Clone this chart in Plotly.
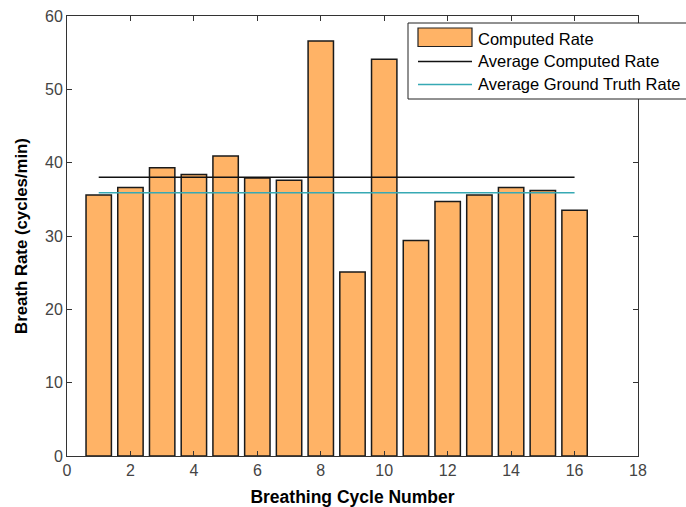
import plotly.graph_objects as go

# Breath rate per breathing cycle
cycles = list(range(1, 17))
computed_rate = [35.6, 36.6, 39.3, 38.4, 40.9, 37.9, 37.6, 56.6,
                 25.1, 54.1, 29.4, 34.7, 35.6, 36.6, 36.2, 33.5]
ground_truth_avg = 35.9
avg_span = [1, 16]

x_ticks = [0, 2, 4, 6, 8, 10, 12, 14, 16, 18]
y_ticks = [0, 10, 20, 30, 40, 50, 60]

legend_labels = ["Computed Rate", "Average Computed Rate", "Average Ground Truth Rate"]

BAR_FILL = "#FFB366"
TEAL = "#36a9b4"
FONT = "Liberation Sans, Arial, sans-serif"

computed_avg = sum(computed_rate) / len(computed_rate)

fig = go.Figure()
fig.add_trace(go.Bar(
    x=cycles, y=computed_rate, width=0.8,
    marker=dict(color=BAR_FILL, line=dict(color="#1a1a1a", width=1.5)),
    name=legend_labels[0],
))
fig.add_trace(go.Scatter(
    x=avg_span, y=[computed_avg, computed_avg], mode="lines",
    line=dict(color="#111111", width=1.5), name=legend_labels[1],
))
fig.add_trace(go.Scatter(
    x=avg_span, y=[ground_truth_avg, ground_truth_avg], mode="lines",
    line=dict(color=TEAL, width=1.5), name=legend_labels[2],
))

axis_common = dict(
    showgrid=False, zeroline=False, showline=True, linecolor="#333333",
    linewidth=1, mirror="ticks", ticks="inside", ticklen=5, automargin=False,
    tickcolor="#333333", tickfont=dict(family=FONT, size=16, color="#444444"),
)

fig.update_layout(
    width=686, height=507,
    margin=dict(l=67, r=48, t=16, b=51),
    paper_bgcolor="white", plot_bgcolor="white",
    showlegend=False, bargap=0.2,
    xaxis=dict(range=[0, 18], tickvals=x_ticks,
               title=dict(text="<b>Breathing Cycle Number</b>", standoff=17,
                          font=dict(family=FONT, size=17.5, color="black")),
               **axis_common),
    yaxis=dict(range=[0, 60], tickvals=y_ticks,
               title=dict(text="<b>Breath Rate (cycles/min)</b>", standoff=13,
                          font=dict(family=FONT, size=16.8, color="black")),
               **axis_common),
)

# Legend box drawn in paper coordinates (pixel helpers)
plot_l, plot_r, plot_t, plot_b = 67, 638, 16, 456


def px(x):
    return (x - plot_l) / (plot_r - plot_l)


def py(y):
    return (plot_b - y) / (plot_b - plot_t)


shapes = [
    dict(type="rect", xref="paper", yref="paper", layer="above",
         x0=px(408), x1=px(700), y0=py(99), y1=py(23),
         fillcolor="white", line=dict(color="#222222", width=1)),
    dict(type="rect", xref="paper", yref="paper", layer="above",
         x0=px(418), x1=px(472), y0=py(46.5), y1=py(28),
         fillcolor=BAR_FILL, line=dict(color="#222222", width=1.2)),
    dict(type="line", xref="paper", yref="paper", layer="above",
         x0=px(418), x1=px(472), y0=py(61.5), y1=py(61.5),
         line=dict(color="#111111", width=1.5)),
    dict(type="line", xref="paper", yref="paper", layer="above",
         x0=px(418), x1=px(472), y0=py(84.5), y1=py(84.5),
         line=dict(color=TEAL, width=1.5)),
]
annotations = []
for label, yc in zip(legend_labels, [38.5, 61.5, 84.5]):
    annotations.append(dict(
        xref="paper", yref="paper", x=px(476), y=py(yc),
        xanchor="left", yanchor="middle", showarrow=False, text=label,
        font=dict(family=FONT, size=16.5, color="black"),
    ))

fig.update_layout(shapes=shapes, annotations=annotations)

fig.write_html("out.html")
